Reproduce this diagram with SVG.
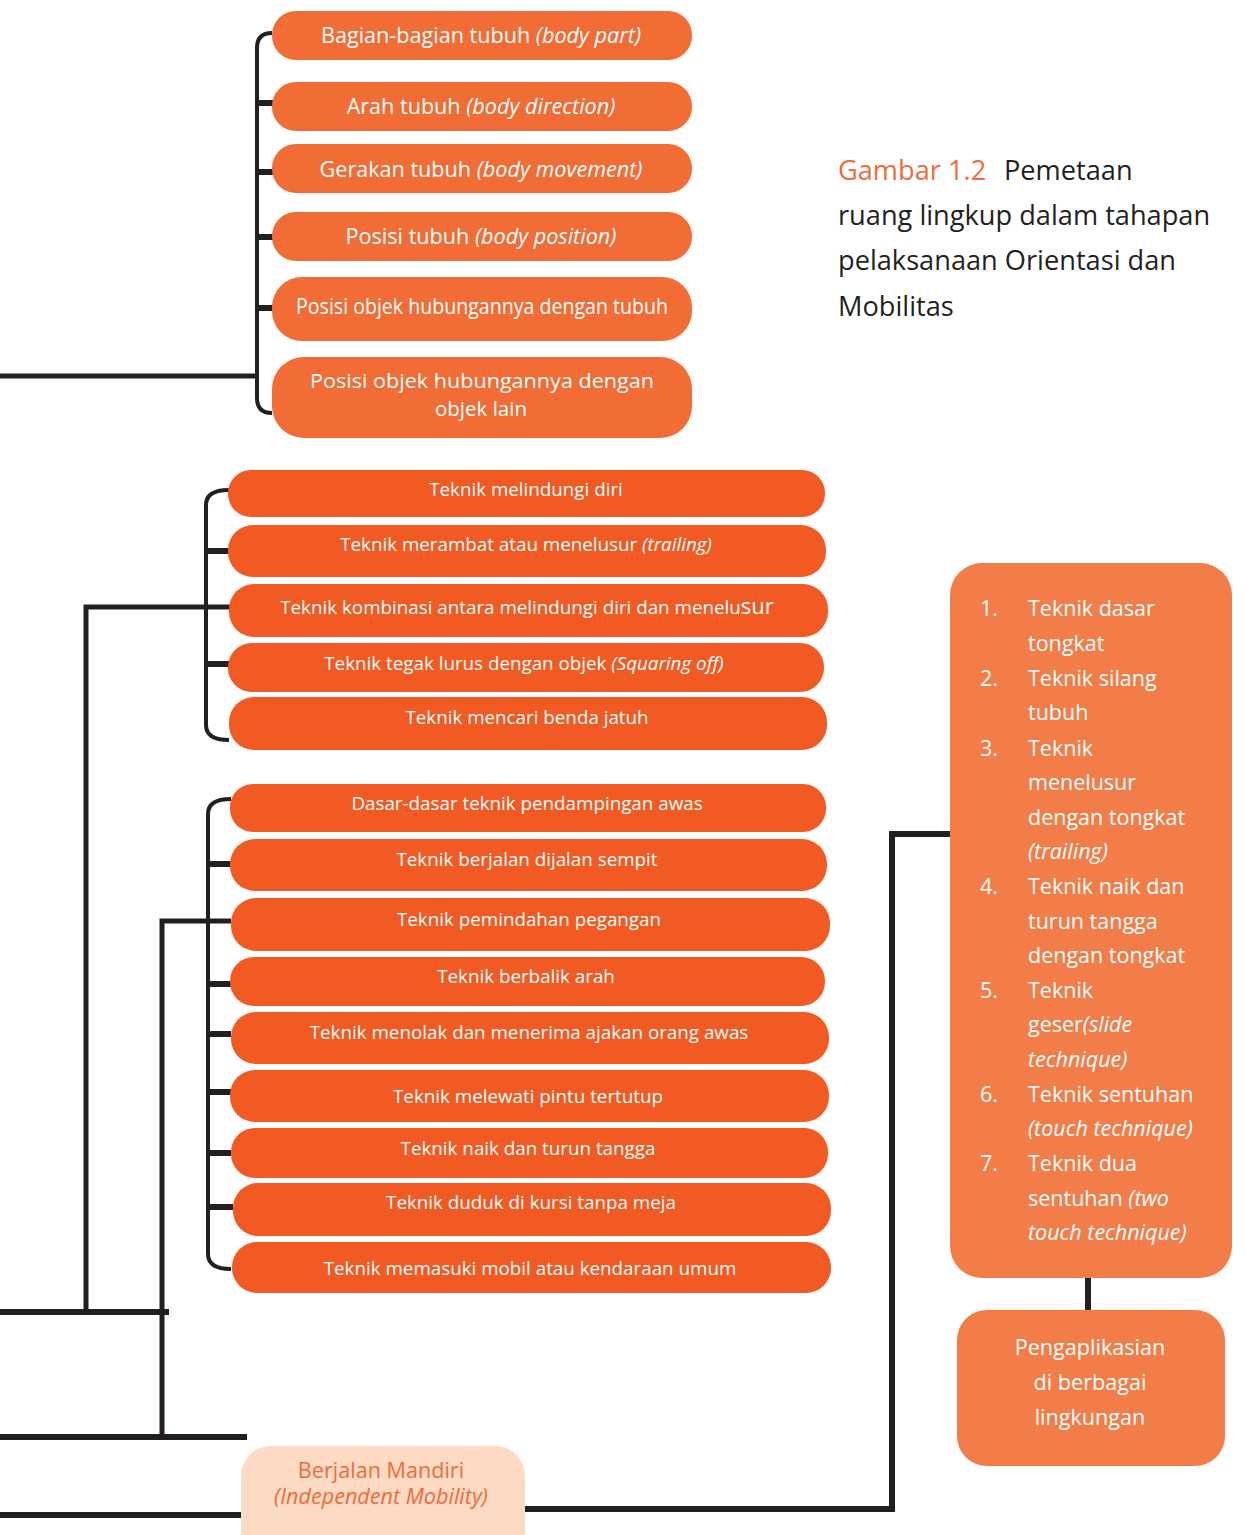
<svg xmlns="http://www.w3.org/2000/svg" width="1247" height="1535" viewBox="0 0 1247 1535">
<style>
.t{font-family:"Open Sans","Noto Sans",sans-serif;fill:#fff;text-anchor:middle}
.g1{font-size:21.6px}
.g2{font-size:18.8px}
.it{font-style:italic}
.b1{fill:#F26C35}
.b2{fill:#F15A22}
.b3{fill:#F37D48}
.ln{fill:none;stroke:#231F20;stroke-width:5}
.br{fill:none;stroke:#231F20;stroke-width:4}
.tk{fill:none;stroke:#231F20;stroke-width:6}
.lt{font-family:"Open Sans","Noto Sans",sans-serif;fill:#fff;font-size:21.5px}
.cap{font-family:"Open Sans","Noto Sans",sans-serif;font-size:27.2px;fill:#231F20}
</style>
<rect width="1247" height="1535" fill="#fff"/>
<g id="connectors">
<path class="br" d="M272,33 Q257,33 257,48 L257,398 Q257,413 272,413"/>
<path class="tk" d="M255,103H273M255,172H273M255,237H273M255,308H273"/>
<path class="ln" d="M0,376H258"/>
<path class="br" d="M229,490 Q206,490 206,505 L206,725 Q206,740 229,740"/>
<path class="tk" d="M204,551H229M204,664H229"/>
<path class="ln" d="M86,1312V607H230"/>
<path class="br" d="M231,799 Q208,799 208,814 L208,1254 Q208,1269 231,1269"/>
<path class="tk" d="M206,864H231M206,984H231M206,1034H231M206,1092H231M206,1153H231M206,1207H233"/>
<path class="ln" d="M162,1437V921H231"/>
<path class="tk" d="M0,1312H169M0,1437H247M0,1515H242"/>
<path class="tk" d="M525,1509H892V834H950"/>
<path class="tk" d="M1088,1277V1311"/>
</g>
<g id="caption">
<text class="cap" x="838" y="180"><tspan fill="#F26A3A">Gambar 1.2</tspan><tspan x="1004">Pemetaan</tspan></text>
<text class="cap" x="838" y="225">ruang lingkup dalam tahapan</text>
<text class="cap" x="838" y="270">pelaksanaan Orientasi dan</text>
<text class="cap" x="838" y="316">Mobilitas</text>
</g>
<g id="n1"><rect class="b1" x="272" y="11" width="420" height="49" rx="24"/><text class="t g1" x="481" y="43">Bagian-bagian tubuh <tspan class="it">(body part)</tspan></text></g>
<g id="n2"><rect class="b1" x="272" y="82" width="420" height="49" rx="24"/><text class="t g1" x="481" y="114">Arah tubuh <tspan class="it">(body direction)</tspan></text></g>
<g id="n3"><rect class="b1" x="272" y="144" width="420" height="49" rx="24"/><text class="t g1" x="481" y="177">Gerakan tubuh <tspan class="it">(body movement)</tspan></text></g>
<g id="n4"><rect class="b1" x="272" y="212" width="420" height="49" rx="24"/><text class="t g1" x="481" y="244">Posisi tubuh <tspan class="it">(body position)</tspan></text></g>
<g id="n5"><rect class="b1" x="272" y="277" width="420" height="64" rx="30"/><text class="t g1" x="482" y="314" textLength="372" lengthAdjust="spacingAndGlyphs">Posisi objek hubungannya dengan tubuh</text></g>
<g id="n6"><rect class="b1" x="272" y="357" width="420" height="81" rx="32"/><text class="t" font-size="20.5px" x="482" y="388" textLength="344" lengthAdjust="spacingAndGlyphs">Posisi objek hubungannya dengan</text><text class="t" font-size="20.5px" x="481" y="416">objek lain</text></g>
<g id="n7"><rect class="b2" x="228" y="470" width="597" height="47" rx="23"/><text class="t g2" x="526" y="496">Teknik melindungi diri</text></g>
<g id="n8"><rect class="b2" x="228" y="525" width="598" height="52" rx="25"/><text class="t g2" x="526" y="551">Teknik merambat atau menelusur <tspan class="it">(trailing)</tspan></text></g>
<g id="n9"><rect class="b2" x="229" y="584" width="599" height="53" rx="25"/><text class="t g2" x="527" y="614">Teknik kombinasi antara melindungi diri dan menelu<tspan font-size="22px">sur</tspan></text></g>
<g id="n10"><rect class="b2" x="228" y="643" width="596" height="49" rx="24"/><text class="t g2" x="524" y="670">Teknik tegak lurus dengan objek <tspan class="it">(Squaring off)</tspan></text></g>
<g id="n11"><rect class="b2" x="229" y="697" width="598" height="53" rx="25"/><text class="t g2" x="527" y="724">Teknik mencari benda jatuh</text></g>
<g id="n12"><rect class="b2" x="230" y="784" width="596" height="48" rx="23"/><text class="t g2" x="527" y="810">Dasar-dasar teknik pendampingan awas</text></g>
<g id="n13"><rect class="b2" x="230" y="839" width="597" height="52" rx="25"/><text class="t g2" x="527" y="866">Teknik berjalan dijalan sempit</text></g>
<g id="n14"><rect class="b2" x="231" y="898" width="599" height="53" rx="25"/><text class="t g2" x="529" y="926">Teknik pemindahan pegangan</text></g>
<g id="n15"><rect class="b2" x="230" y="957" width="595" height="49" rx="24"/><text class="t g2" x="526" y="983">Teknik berbalik arah</text></g>
<g id="n16"><rect class="b2" x="231" y="1012" width="598" height="52" rx="25"/><text class="t g2" x="529" y="1039">Teknik menolak dan menerima ajakan orang awas</text></g>
<g id="n17"><rect class="b2" x="230" y="1070" width="599" height="52" rx="25"/><text class="t g2" x="528" y="1103">Teknik melewati pintu tertutup</text></g>
<g id="n18"><rect class="b2" x="231" y="1128" width="597" height="50" rx="24"/><text class="t g2" x="528" y="1155">Teknik naik dan turun tangga</text></g>
<g id="n19"><rect class="b2" x="233" y="1183" width="598" height="53" rx="25"/><text class="t g2" x="531" y="1209">Teknik duduk di kursi tanpa meja</text></g>
<g id="n20"><rect class="b2" x="232" y="1242" width="599" height="51" rx="25"/><text class="t g2" x="530" y="1275">Teknik memasuki mobil atau kendaraan umum</text></g>
<g id="n21"><rect class="b3" x="950" y="563" width="282" height="715" rx="32"/>
<g class="lt">
<text x="980" y="616">1.</text><text x="1028" y="616">Teknik dasar</text><text x="1028" y="651">tongkat</text>
<text x="980" y="686">2.</text><text x="1028" y="686">Teknik silang</text><text x="1028" y="720">tubuh</text>
<text x="980" y="756">3.</text><text x="1028" y="756">Teknik</text><text x="1028" y="790">menelusur</text><text x="1028" y="825">dengan tongkat</text><text x="1028" y="859" font-style="italic">(trailing)</text>
<text x="980" y="894">4.</text><text x="1028" y="894">Teknik naik dan</text><text x="1028" y="929">turun tangga</text><text x="1028" y="963">dengan tongkat</text>
<text x="980" y="998">5.</text><text x="1028" y="998">Teknik</text><text x="1028" y="1032">geser<tspan font-style="italic">(slide</tspan></text><text x="1028" y="1067" font-style="italic">technique)</text>
<text x="980" y="1102">6.</text><text x="1028" y="1102">Teknik sentuhan</text><text x="1028" y="1136" font-style="italic">(touch technique)</text>
<text x="980" y="1171">7.</text><text x="1028" y="1171">Teknik dua</text><text x="1028" y="1206">sentuhan <tspan font-style="italic">(two</tspan></text><text x="1028" y="1240" font-style="italic">touch technique)</text>
</g></g>
<g id="n22"><rect class="b3" x="957" y="1310" width="268" height="156" rx="30"/><text class="t g1" x="1090" y="1355">Pengaplikasian</text><text class="t g1" x="1090" y="1390">di berbagai</text><text class="t g1" x="1090" y="1425">lingkungan</text></g>
<g id="n23"><rect x="241" y="1446" width="284" height="130" rx="30" fill="#FCDAC4"/><text class="t g1" x="381" y="1478" style="fill:#F26A3A">Berjalan Mandiri</text><text class="t g1 it" x="381" y="1504" style="fill:#F26A3A">(Independent Mobility)</text></g>
</svg>
